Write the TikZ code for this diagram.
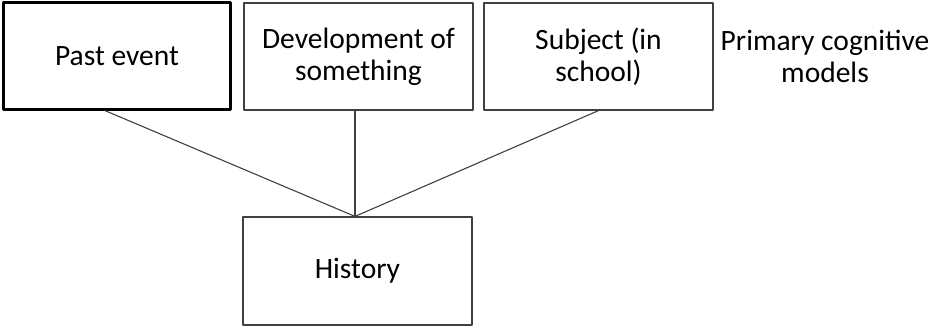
\documentclass[tikz,border=0pt]{standalone}
\usepackage{fontspec}
\setmainfont{Carlito}
\usetikzlibrary{positioning}

\begin{document}
\begin{tikzpicture}[x=1pt,y=1pt,line cap=round,line join=round,
  box/.style={draw=black!75,line width=1.2pt,minimum width=229pt,minimum height=107pt,align=center,font=\fontsize{29.5}{32}\selectfont},
  label/.style={align=center,font=\fontsize{29.5}{32}\selectfont},
  link/.style={draw=black!75,line width=1.1pt}]
\useasboundingbox (0,0) rectangle (930,327);
\node[box,draw=black,line width=2.2pt,minimum width=227pt] (past) at (117,271) {Past event};
\node[box] (devel) at (358.5,270.5) {Development of\\something};
\node[box] (subj) at (598.5,270.5) {Subject (in\\school)};
\node[label] (prim) at (825,270.5) {Primary cognitive\\models};
\node[box,minimum height=108pt] (hist) at (357.5,56) {History};
\draw[link] ([xshift=-12pt]past.south) -- ([xshift=-2.5pt]hist.north);
\draw[link] ([xshift=-3.5pt]devel.south) -- ([xshift=-2.5pt]hist.north);
\draw[link] (subj.south) -- ([xshift=-2.5pt]hist.north);
\end{tikzpicture}
\end{document}
